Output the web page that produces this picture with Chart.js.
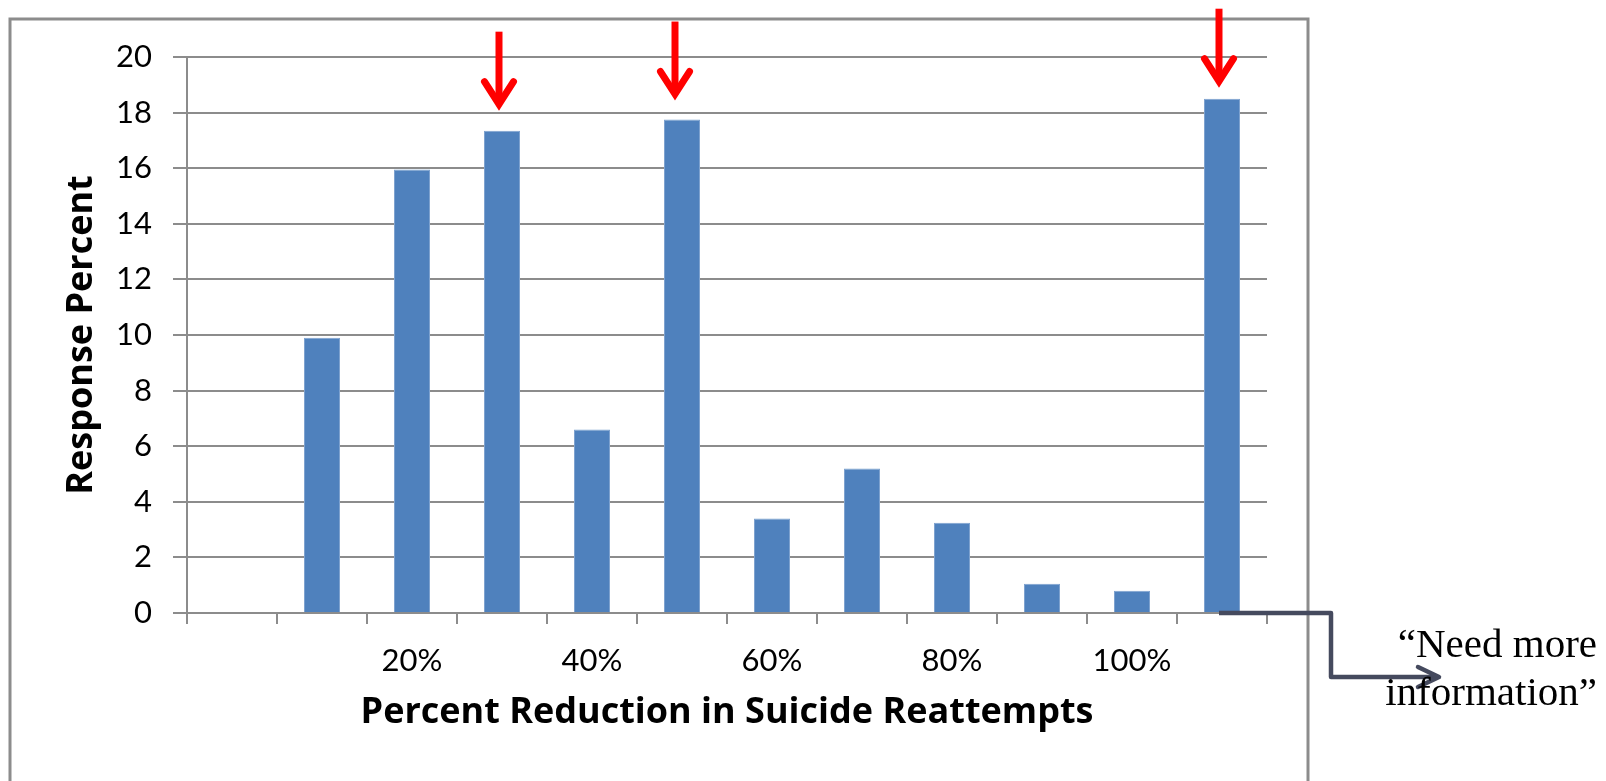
<!DOCTYPE html>
<html>
<head>
<meta charset="utf-8">
<script src="https://cdn.jsdelivr.net/npm/chart.js@4"></script>
<style>
  html, body { margin: 0; padding: 0; background: #ffffff; }
  canvas { display: block; }
</style>
</head>
<body>
<canvas id="chart" width="1606" height="781"></canvas>
<script>
// Survey answers: expected percent reduction in suicide reattempts
const categories = ['0%', '10%', '20%', '30%', '40%', '50%', '60%', '70%', '80%', '90%', '100%', 'Need more information'];
const responsePercent = [0, 9.9, 15.95, 17.35, 6.6, 17.75, 3.4, 5.2, 3.25, 1.05, 0.8, 18.5];
const labeledTicks = ['20%', '40%', '60%', '80%', '100%'];
const highlighted = ['30%', '50%', 'Need more information'];
const noteLines = ['\u201CNeed more', 'information\u201D'];

const GRID = '#8c8c8c';
const BAR = '#4f81bd';

// per-arrow nudges (pixels) for the red markers
const arrowNudge = [{ dx: -3, gap: 20 }, { dx: -7, gap: 19 }, { dx: -3, gap: 11 }];

const annotations = {
  id: 'annotations',
  beforeDraw(chart) {
    const ctx = chart.ctx;
    ctx.save();
    ctx.fillStyle = '#ffffff';
    ctx.fillRect(0, 0, chart.width, chart.height);
    ctx.strokeStyle = GRID;
    ctx.lineWidth = 3;
    ctx.strokeRect(10, 19, 1298, 820);
    ctx.restore();
  },
  afterDraw(chart) {
    const ctx = chart.ctx;
    const xs = chart.scales.x, ys = chart.scales.y;
    ctx.save();

    // red arrows above the three most chosen answers
    ctx.strokeStyle = '#ff0000';
    ctx.lineWidth = 7;
    highlighted.forEach((cat, k) => {
      const i = categories.indexOf(cat);
      const x = xs.getPixelForValue(i) + arrowNudge[k].dx;
      const tip = ys.getPixelForValue(responsePercent[i]) - arrowNudge[k].gap;
      ctx.lineCap = 'butt';
      ctx.beginPath();
      ctx.moveTo(x, tip - 79);
      ctx.lineTo(x, tip - 8);
      ctx.stroke();
      ctx.lineCap = 'round';
      ctx.lineJoin = 'miter';
      ctx.beginPath();
      ctx.moveTo(x - 14.5, tip - 29);
      ctx.lineTo(x, tip - 6.5);
      ctx.lineTo(x + 14.5, tip - 29);
      ctx.stroke();
    });

    // connector from the last bar to its note
    const last = categories.length - 1;
    const y0 = ys.getPixelForValue(0);
    const xStart = xs.getPixelForValue(last) - 3;
    const bendX = chart.chartArea.right + 64;
    const dropY = y0 + 64;
    const endX = bendX + 108;
    ctx.strokeStyle = '#454a5e';
    ctx.lineWidth = 4.5;
    ctx.lineJoin = 'round';
    ctx.lineCap = 'butt';
    ctx.beginPath();
    ctx.moveTo(xStart, y0);
    ctx.lineTo(bendX, y0);
    ctx.lineTo(bendX, dropY);
    ctx.lineTo(endX - 2, dropY);
    ctx.stroke();
    ctx.lineCap = 'round';
    ctx.beginPath();
    ctx.moveTo(endX - 21, dropY - 10);
    ctx.lineTo(endX, dropY);
    ctx.lineTo(endX - 21, dropY + 10);
    ctx.stroke();

    // note text
    ctx.fillStyle = '#000000';
    ctx.font = '41px "Liberation Serif", serif';
    ctx.textAlign = 'right';
    ctx.textBaseline = 'alphabetic';
    ctx.fillText(noteLines[0], chart.width - 9, 657);
    ctx.fillText(noteLines[1], chart.width - 9, 705);
    ctx.restore();
  }
};

function build() {
  new Chart(document.getElementById('chart'), {
    type: 'bar',
    data: {
      labels: categories,
      datasets: [{
        data: responsePercent,
        backgroundColor: BAR,
        borderColor: '#7ea2cf',
        borderWidth: c => (c.raw ? 1 : 0),
        categoryPercentage: 1,
        barPercentage: 0.4
      }]
    },
    options: {
      responsive: false,
      animation: false,
      events: [],
      layout: { padding: { left: 0, top: 57, right: 339, bottom: 0 } },
      plugins: { legend: { display: false }, tooltip: { enabled: false } },
      scales: {
        x: {
          afterFit: s => { s.height = 168; },
          grid: { drawOnChartArea: false, drawTicks: true, tickLength: 11, color: GRID, lineWidth: 2, offset: true },
          border: { display: true, color: GRID, width: 2 },
          ticks: {
            autoSkip: false, maxRotation: 0, padding: 18, color: '#000',
            font: { family: 'Lato', size: 31 },
            callback: (v, i) => (labeledTicks.includes(categories[i]) ? categories[i] : '')
          },
          title: {
            display: true, text: 'Percent Reduction in Suicide Reattempts', color: '#000',
            font: { family: '"Open Sans"', size: 36, weight: 'bold' },
            padding: { top: 0, bottom: 47 }
          }
        },
        y: {
          min: 0, max: 20,
          afterFit: s => { s.width = 187; },
          grid: { color: GRID, lineWidth: 2, tickLength: 14, drawTicks: true },
          border: { display: true, color: GRID, width: 2 },
          ticks: { stepSize: 2, padding: 21, color: '#000', font: { family: 'Lato', size: 31 } },
          title: {
            display: true, text: 'Response Percent', color: '#000',
            font: { family: '"Open Sans"', size: 36, weight: 'bold' },
            padding: { top: 60, bottom: 0 }
          }
        }
      }
    },
    plugins: [annotations]
  });
}

Promise.all([
  document.fonts.load('31px Lato'),
  document.fonts.load('bold 36px "Open Sans"'),
  document.fonts.load('41px "Liberation Serif"')
]).then(build, build);
</script>
</body>
</html>
